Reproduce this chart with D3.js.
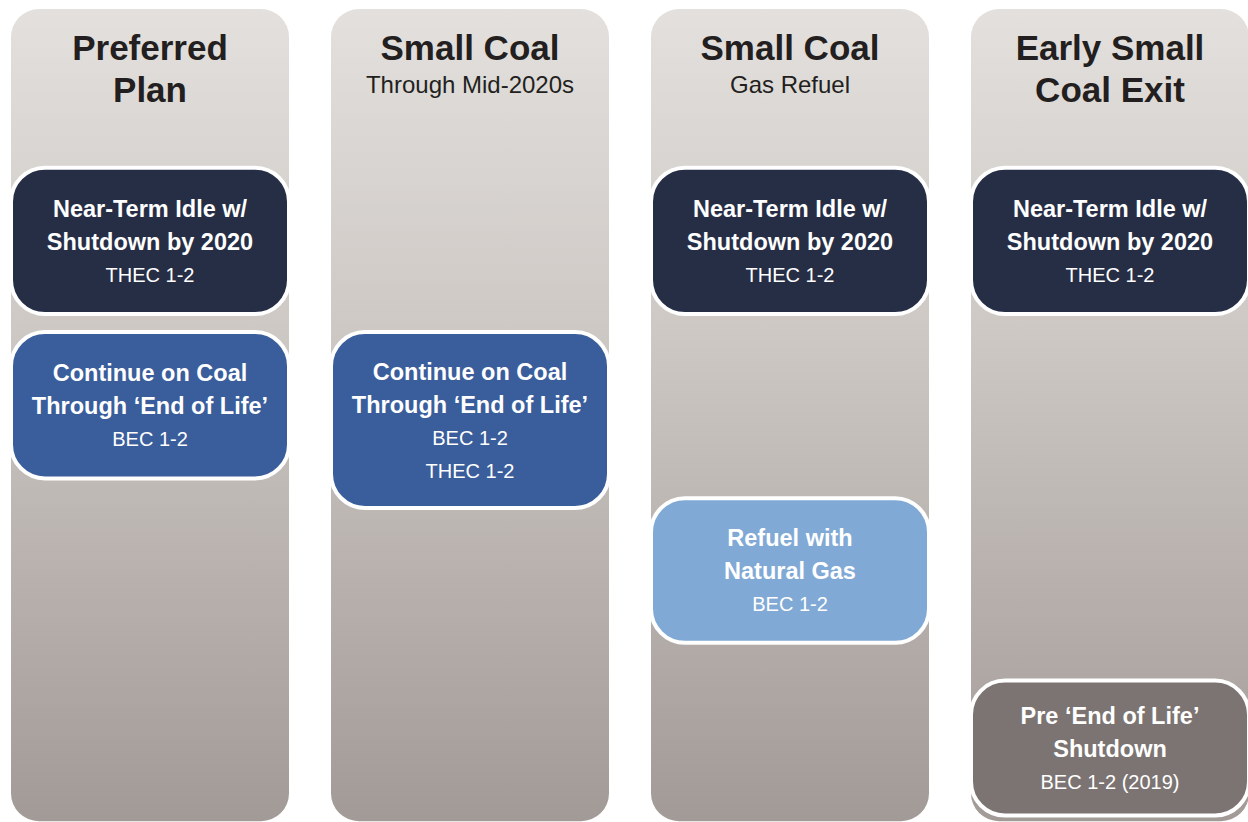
<!DOCTYPE html>
<html><head><meta charset="utf-8">
<script src="https://cdn.jsdelivr.net/npm/d3@7"></script>
<style>html,body{margin:0;padding:0;background:#fff;}svg{display:block;}</style>
</head><body>
<svg id="c" width="1248" height="822"></svg>
<script>
// Scenarios (columns)
const scenarios = ["Preferred Plan", "Small Coal Mid", "Small Coal Gas", "Early Small Coal Exit"];
const titleLines = [["Preferred", "Plan"], ["Small Coal"], ["Small Coal"], ["Early Small", "Coal Exit"]];
const subtitles = ["", "Through Mid-2020s", "Gas Refuel", ""];

// Boxes: scenario index, start / end on a 0-50 vertical stage scale
const boxScenario = [0, 0, 1, 2, 2, 3, 3];
const boxStart    = [10.2, 20.2, 20.2, 10.2, 30.3, 10.2, 41.4];
const boxEnd      = [19.1, 29.1, 30.9, 19.1, 39.1, 19.1, 49.6];
const boxKind     = ["idle", "coal", "coal", "idle", "gas", "idle", "exit"];
const boxHeads    = [
  ["Near-Term Idle w/", "Shutdown by 2020"],
  ["Continue on Coal", "Through \u2018End of Life\u2019"],
  ["Continue on Coal", "Through \u2018End of Life\u2019"],
  ["Near-Term Idle w/", "Shutdown by 2020"],
  ["Refuel with", "Natural Gas"],
  ["Near-Term Idle w/", "Shutdown by 2020"],
  ["Pre \u2018End of Life\u2019", "Shutdown"]
];
const boxUnits = [["THEC 1-2"], ["BEC 1-2"], ["BEC 1-2", "THEC 1-2"], ["THEC 1-2"], ["BEC 1-2"], ["THEC 1-2"], ["BEC 1-2 (2019)"]];

const kinds = ["idle", "coal", "gas", "exit"];
const kindColors = ["#262e46", "#3a5d9b", "#80a9d5", "#7c7472"];

const svg = d3.select("#c");
const W = 1248, H = 822;
const x = d3.scaleBand().domain(scenarios).range([11, 1249]).paddingInner(42/320).paddingOuter(0);
const y = d3.scaleLinear().domain([0, 50]).range([0, H]);
const color = d3.scaleOrdinal().domain(kinds).range(kindColors);
const font = "'Liberation Sans', Arial, Helvetica, sans-serif";

const defs = svg.append("defs");
const g = defs.append("linearGradient").attr("id", "colGrad").attr("x1", 0).attr("y1", 0).attr("x2", 0).attr("y2", 1);
g.append("stop").attr("offset", "0%").attr("stop-color", "#e3e0dd");
g.append("stop").attr("offset", "40%").attr("stop-color", "#cdc8c4");
g.append("stop").attr("offset", "100%").attr("stop-color", "#a29a96");

// columns
svg.selectAll("rect.col").data(scenarios).join("rect")
  .attr("class", "col")
  .attr("x", d => x(d)).attr("y", y(0.55))
  .attr("width", x.bandwidth()).attr("height", y(49.95) - y(0.55))
  .attr("rx", 28).attr("ry", 28)
  .attr("fill", "url(#colGrad)");

// titles
scenarios.forEach((s, i) => {
  const cx = x(s) + x.bandwidth() / 2;
  const t = svg.append("text").attr("text-anchor", "middle").attr("font-family", font)
    .attr("font-weight", "bold").attr("font-size", 35).attr("fill", "#231f20");
  titleLines[i].forEach((ln, j) => {
    t.append("tspan").attr("x", cx).attr("y", y(3.65) + j * 42).text(ln);
  });
  if (subtitles[i]) {
    svg.append("text").attr("text-anchor", "middle").attr("font-family", font)
      .attr("font-size", 24).attr("fill", "#231f20")
      .attr("x", cx).attr("y", y(5.65)).text(subtitles[i]);
  }
});

// boxes
boxScenario.forEach((si, i) => {
  const s = scenarios[si];
  const bx = x(s), bw = x.bandwidth();
  const by = y(boxStart[i]), bh = y(boxEnd[i]) - y(boxStart[i]);
  svg.append("rect").attr("x", bx).attr("y", by).attr("width", bw).attr("height", bh)
    .attr("rx", 34).attr("ry", 34)
    .attr("fill", color(boxKind[i])).attr("stroke", "#ffffff").attr("stroke-width", 4);
  const lines = boxHeads[i].map(t => ({t, b: true})).concat(boxUnits[i].map(t => ({t, b: false})));
  const lh = 33;
  const total = (lines.length - 1) * lh;
  const cy = by + bh / 2 - total / 2 + 1;
  const cx = bx + bw / 2;
  lines.forEach((ln, j) => {
    svg.append("text").attr("text-anchor", "middle").attr("font-family", font)
      .attr("font-weight", ln.b ? "bold" : "normal")
      .attr("font-size", ln.b ? 23.5 : 20)
      .attr("fill", "#ffffff")
      .attr("dominant-baseline", "central")
      .attr("x", cx).attr("y", cy + j * lh).text(ln.t);
  });
});
</script>
</body></html>
